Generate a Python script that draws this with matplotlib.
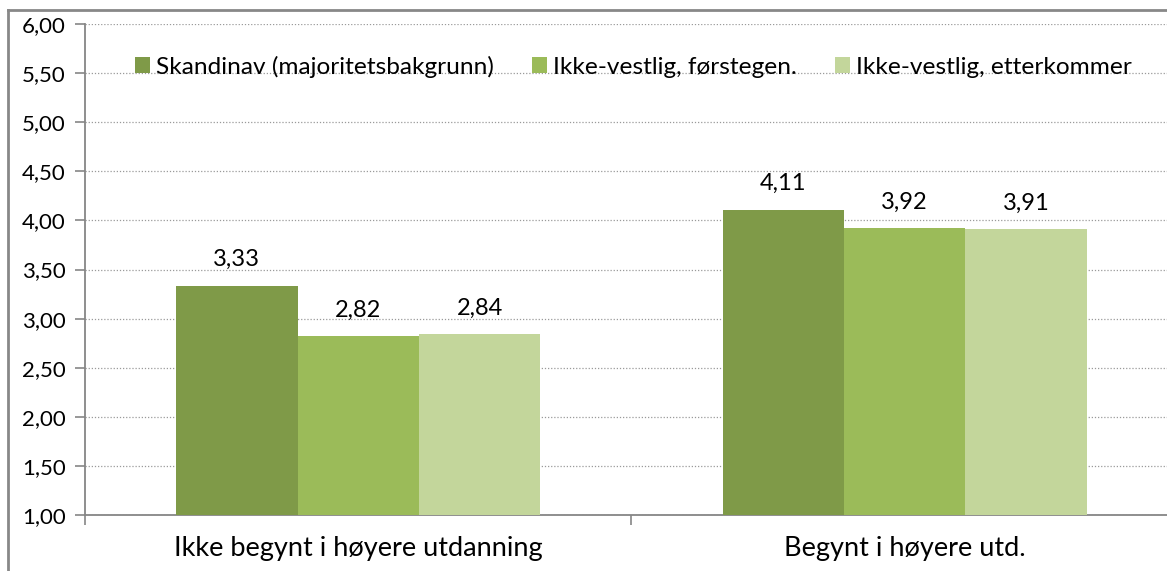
import numpy as np
import matplotlib.pyplot as plt
from matplotlib.ticker import FuncFormatter, FixedLocator
from matplotlib.lines import Line2D

plt.rcParams['font.family'] = ['Lato', 'DejaVu Sans']

categories = ['Ikke begynt i høyere utdanning', 'Begynt i høyere utd.']
series = ['Skandinav (majoritetsbakgrunn)', 'Ikke-vestlig, førstegen.', 'Ikke-vestlig, etterkommer']
skandinav = [3.33, 4.11]
forstegen = [2.82, 3.92]
etterkommer = [2.84, 3.91]
colors = ['#7f9a48', '#9bbb59', '#c3d69b']

fig = plt.figure(figsize=(11.67, 5.71), dpi=100)
ax = fig.add_axes([0.0728, 0.098, 0.9366, 0.860])

x = np.arange(len(categories))
w = 0.222
for i, (vals, name) in enumerate(zip([skandinav, forstegen, etterkommer], series)):
    bars = ax.bar(x + (i - 1) * w, np.array(vals) - 1, w, bottom=1, color=colors[i],
                  label=name, zorder=3)
    for b, v in zip(bars, vals):
        ax.annotate(('%.2f' % v).replace('.', ','), (b.get_x() + b.get_width() / 2, v),
                    xytext=(0, 19), textcoords='offset points', ha='center', va='center',
                    fontsize=17, zorder=4)

ax.set_ylim(1, 6)
ax.set_xlim(-0.5, 1.5)
ax.set_yticks(np.arange(1, 6.01, 0.5))
ax.yaxis.set_major_formatter(FuncFormatter(lambda v, p: ('%.2f' % v).replace('.', ',')))
ax.grid(axis='y', color='#9a9a9a', linestyle=(0, (1, 1.5)), linewidth=0.9, zorder=0)

ax.set_xticks(x)
ax.set_xticklabels(categories, fontsize=19.5)
ax.xaxis.set_minor_locator(FixedLocator([-0.5, 0.5, 1.5]))
ax.tick_params(axis='x', which='major', length=0, pad=15)
ax.tick_params(axis='x', which='minor', length=7, color='#868686', width=1.2)
ax.tick_params(axis='y', length=7, color='#868686', width=1.2, labelsize=16, pad=7)

for s in ['top', 'right']:
    ax.spines[s].set_visible(False)
for s in ['left', 'bottom']:
    ax.spines[s].set_color('#868686')
    ax.spines[s].set_linewidth(1.3)

leg = ax.legend(loc='upper center', bbox_to_anchor=(0.502, 0.98), ncol=3, frameon=False,
                fontsize=17.6, handlelength=0.62, handleheight=0.62, handletextpad=0.25,
                columnspacing=1.55)

# outer chart frame (cut off at the right and bottom)
fig.add_artist(Line2D([8 / 1167, 8 / 1167], [0, 1 - 10 / 571], color='#888888', lw=2,
                      transform=fig.transFigure))
fig.add_artist(Line2D([8 / 1167, 1], [1 - 10 / 571, 1 - 10 / 571], color='#888888', lw=2,
                      transform=fig.transFigure))

fig.savefig('out.png', dpi=100)
